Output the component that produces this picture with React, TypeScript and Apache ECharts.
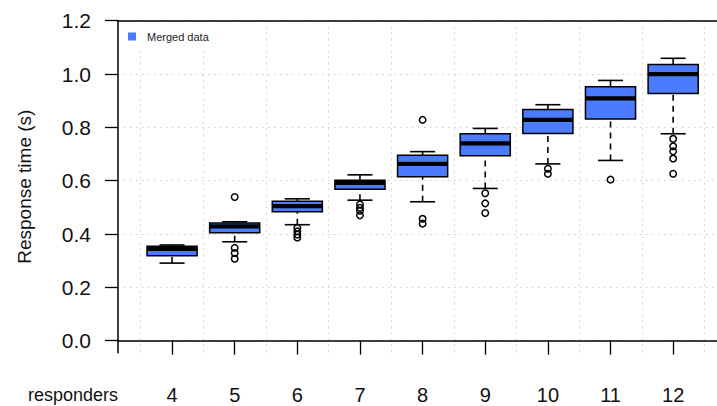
import React, { useEffect, useRef } from "react";
import * as echarts from "echarts";

const categories = [4, 5, 6, 7, 8, 9, 10, 11, 12];
const whiskerLow = [0.291, 0.371, 0.435, 0.527, 0.521, 0.571, 0.663, 0.676, 0.776];
const q1 = [0.319, 0.405, 0.484, 0.568, 0.615, 0.694, 0.777, 0.831, 0.927];
const median = [0.344, 0.429, 0.505, 0.592, 0.663, 0.74, 0.828, 0.909, 1.0];
const q3 = [0.354, 0.441, 0.523, 0.602, 0.695, 0.776, 0.867, 0.952, 1.036];
const whiskerHigh = [0.359, 0.446, 0.532, 0.622, 0.709, 0.796, 0.885, 0.976, 1.059];
const outliers: number[][] = [
  [],
  [0.539, 0.348, 0.329, 0.307],
  [0.423, 0.41, 0.398, 0.387],
  [0.511, 0.498, 0.487, 0.47],
  [0.828, 0.457, 0.439],
  [0.553, 0.515, 0.479],
  [0.645, 0.626],
  [0.604],
  [0.757, 0.729, 0.71, 0.683, 0.626],
];
const yTicks = [0, 0.2, 0.4, 0.6, 0.8, 1.0, 1.2];
const xGridLines = [3.5, 4.5, 5.5, 6.5, 7.5, 8.5, 9.5, 10.5, 11.5, 12.5];

const BLUE = "#4b7bff";
const FONT = "'Liberation Sans', Arial, Helvetica, sans-serif";

export default function App() {
  const ref = useRef<HTMLDivElement>(null);
  useEffect(() => {
    if (!ref.current) return;
    const chart = echarts.init(ref.current, undefined, { renderer: "svg" });
    const boxData = categories.map((c, i) => [c, whiskerLow[i], q1[i], median[i], q3[i], whiskerHigh[i]]);
    const outData: number[][] = [];
    categories.forEach((c, i) => outliers[i].forEach((v) => outData.push([c, v])));
    const gridStyle = { color: "#cfcfcf", width: 1, type: [1.5, 4.5] as any };
    chart.setOption({
      animation: false,
      backgroundColor: "#fff",
      textStyle: { fontFamily: FONT },
      legend: {
        data: [{ name: "Merged data", icon: "rect", itemStyle: { color: BLUE } }],
        left: 119,
        top: 22,
        padding: [9, 10, 8, 9],
        backgroundColor: "#fff",
        itemWidth: 8,
        itemHeight: 8,
        selectedMode: false,
        textStyle: { fontSize: 11, color: "#222", fontFamily: FONT, padding: [0, 0, 0, 6] },
      },
      grid: { left: 118, right: 0, top: 20.7, height: 332, containLabel: false },
      xAxis: [
        {
          type: "value",
          min: 3.137,
          max: 12.7,
          position: "bottom",
          axisLine: { show: true, lineStyle: { color: "#000", width: 1.5 } },
          axisTick: { show: true, customValues: categories, length: 14, lineStyle: { color: "#000", width: 1.3 } },
          axisLabel: { show: true, customValues: categories, fontSize: 20, color: "#111", margin: 32, fontFamily: FONT },
          splitLine: { show: false },
        },
        {
          type: "value",
          min: 3.137,
          max: 12.7,
          position: "top",
          axisLine: { show: true, lineStyle: { color: "#000", width: 1.5 } },
          axisTick: { show: false, customValues: xGridLines },
          axisLabel: { show: false },
          splitLine: { show: true, lineStyle: gridStyle },
        },
      ],
      yAxis: {
        type: "value",
        min: -0.045,
        max: 1.2,
        name: "Response time (s)",
        nameLocation: "middle",
        nameGap: 84,
        nameTextStyle: { fontSize: 19, color: "#111", fontFamily: FONT },
        axisLine: { show: true, lineStyle: { color: "#000", width: 1.5 } },
        axisTick: { show: true, customValues: yTicks, length: 13, lineStyle: { color: "#000", width: 1.3 } },
        axisLabel: {
          show: true,
          customValues: yTicks,
          fontSize: 21,
          color: "#111",
          margin: 27,
          fontFamily: FONT,
          formatter: (v: number) => v.toFixed(1),
        },
        splitLine: { show: true, lineStyle: gridStyle },
      },
      graphic: [
        {
          type: "text",
          left: 28,
          top: 386,
          style: { text: "responders", fontSize: 18, fill: "#111", fontFamily: FONT },
        },
      ],
      series: [
        {
          name: "Merged data",
          type: "custom",
          xAxisIndex: 0,
          yAxisIndex: 0,
          itemStyle: { color: BLUE },
          encode: { x: 0, y: [1, 2, 3, 4, 5] },
          data: boxData,
          renderItem: (params: any, api: any) => {
            const x = api.value(0);
            const pLo = api.coord([x, api.value(1)]);
            const pQ1 = api.coord([x, api.value(2)]);
            const pMed = api.coord([x, api.value(3)]);
            const pQ3 = api.coord([x, api.value(4)]);
            const pHi = api.coord([x, api.value(5)]);
            const w = api.size([0.8, 0])[0];
            const hw = w / 2;
            const cw = w / 4;
            const px = pQ1[0];
            const lineSt = { stroke: "#000", lineWidth: 1.6 };
            return {
              type: "group",
              children: [
                { type: "line", shape: { x1: px, y1: pHi[1], x2: px, y2: pQ3[1] }, style: { ...lineSt, lineDash: [6, 5] } },
                { type: "line", shape: { x1: px, y1: pLo[1], x2: px, y2: pQ1[1] }, style: { ...lineSt, lineDash: [6, 5] } },
                { type: "line", shape: { x1: px - cw, y1: pHi[1], x2: px + cw, y2: pHi[1] }, style: lineSt },
                { type: "line", shape: { x1: px - cw, y1: pLo[1], x2: px + cw, y2: pLo[1] }, style: lineSt },
                {
                  type: "rect",
                  shape: { x: px - hw, y: pQ3[1], width: w, height: pQ1[1] - pQ3[1] },
                  style: { fill: BLUE, stroke: "#000", lineWidth: 1.5 },
                },
                { type: "line", shape: { x1: px - hw, y1: pMed[1], x2: px + hw, y2: pMed[1] }, style: { stroke: "#000", lineWidth: 4.2 } },
              ],
            };
          },
        },
        {
          name: "outliers",
          type: "scatter",
          xAxisIndex: 0,
          yAxisIndex: 0,
          symbol: "circle",
          symbolSize: 6.5,
          itemStyle: { color: "rgba(0,0,0,0)", borderColor: "#000", borderWidth: 1.5, opacity: 1 },
          data: outData,
          z: 5,
        },
      ],
    });
    return () => chart.dispose();
  }, []);
  return <div ref={ref} style={{ position: "absolute", left: 0, top: 0, width: 717, height: 406 }} />;
}
